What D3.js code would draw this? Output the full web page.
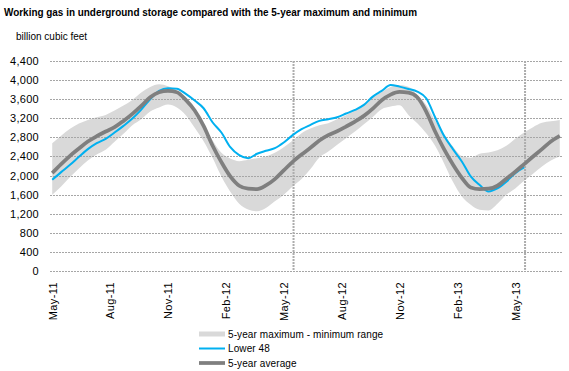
<!DOCTYPE html>
<html>
<head>
<meta charset="utf-8">
<script src="https://cdn.jsdelivr.net/npm/d3@7"></script>
<style>
  body { margin: 0; background: #fff; }
  text { font-family: "Liberation Sans", Arial, sans-serif; fill: #000; }
</style>
</head>
<body>
<div id="chart"></div>
<script>
// weeks since first week of May 2011, sampled every 2 weeks
var weeks = d3.range(0, 115, 2);

// 5-year maximum (upper edge of the band)
var rangeMax = [2678, 2832, 2978, 3090, 3166, 3222, 3271, 3362, 3466, 3585,
  3738, 3857, 3912, 3870, 3780, 3585, 3348, 3048, 2741, 2476,
  2358, 2302, 2330, 2365, 2400, 2476, 2595, 2734, 2887, 2985,
  3055, 3097, 3180, 3264, 3375, 3494, 3640, 3752, 3857, 3898,
  3863, 3689, 3480, 3152, 2873, 2609, 2407, 2372, 2456, 2483,
  2532, 2623, 2769, 2901, 3013, 3104, 3138, 3166];

// 5-year minimum (lower edge of the band)
var rangeMin = [1598, 1772, 1967, 2149, 2316, 2441, 2539, 2706, 2874, 3055,
  3180, 3341, 3424, 3487, 3424, 3264, 2999, 2720, 2372, 1981,
  1661, 1410, 1291, 1250, 1319, 1459, 1598, 1772, 1926, 2135,
  2379, 2504, 2644, 2783, 2922, 3076, 3229, 3389, 3445, 3473,
  3271, 3097, 2887, 2623, 2260, 1870, 1563, 1389, 1284, 1270,
  1410, 1598, 1731, 1891, 2037, 2190, 2316, 2400];

// Lower 48 (ends week 106)
var lower48 = [1912, 2072, 2225, 2393, 2553, 2678, 2769, 2901, 3041, 3194,
  3382, 3598, 3773, 3828, 3821, 3710, 3571, 3410, 3117, 2901,
  2595, 2428, 2365, 2456, 2518, 2574, 2692, 2846, 2971, 3062,
  3145, 3180, 3222, 3299, 3375, 3480, 3654, 3773, 3898, 3863,
  3815, 3759, 3619, 3222, 2832, 2553, 2295, 1981, 1800, 1668,
  1731, 1870, 2051, 2170];

// 5-year average
var avg5 = [2051, 2239, 2414, 2567, 2713, 2825, 2922, 3013, 3145, 3292,
  3459, 3640, 3745, 3773, 3745, 3585, 3362, 3041, 2630, 2281,
  1981, 1786, 1724, 1717, 1793, 1926, 2107, 2288, 2441, 2581,
  2734, 2846, 2929, 3027, 3131, 3250, 3403, 3578, 3696, 3752,
  3738, 3640, 3341, 2922, 2553, 2232, 1954, 1752, 1717, 1724,
  1786, 1933, 2079, 2239, 2400, 2553, 2713, 2830];

var tickWeeks = [0, 13, 26, 39, 52, 65, 78, 91, 104];
var tickLabels = ["May-11", "Aug-11", "Nov-11", "Feb-12", "May-12",
  "Aug-12", "Nov-12", "Feb-13", "May-13"];
var yTicks = [0, 400, 800, 1200, 1600, 2000, 2400, 2800, 3200, 3600, 4000, 4400];
var markerWeeks = [54.2, 106.2];

function draw_chart()
{
  var svg = d3.select("#chart").append("svg")
    .attr("width", 569)
    .attr("height", 371);

  var margin = {left: 50, right: 562, top: 61, bottom: 271};
  var nWeeks = 115;

  var x = d3.scaleLinear().domain([-0.5, nWeeks - 0.5]).range([margin.left, margin.right]);
  var y = d3.scaleLinear().domain([0, 4400]).range([margin.bottom, margin.top]);

  // title
  svg.append("text")
    .attr("x", 4).attr("y", 16)
    .attr("font-size", "11px").attr("font-weight", "bold")
    .attr("textLength", 413).attr("lengthAdjust", "spacingAndGlyphs")
    .text("Working gas in underground storage compared with the  5-year maximum and minimum");

  svg.append("text")
    .attr("x", 16).attr("y", 40)
    .attr("font-size", "10px")
    .text("billion cubic feet");

  // band
  var bandData = weeks.map(function(w, i) { return {w: w, lo: rangeMin[i], hi: rangeMax[i]}; });
  var area = d3.area()
    .x(d => x(d.w))
    .y0(d => y(d.lo))
    .y1(d => y(d.hi))
    .curve(d3.curveMonotoneX);

  svg.append("path")
    .datum(bandData)
    .attr("d", area)
    .attr("fill", "#d9d9d9");

  // gridlines
  svg.append("g").selectAll("line")
    .data(yTicks)
    .enter().append("line")
    .attr("x1", margin.left).attr("x2", margin.right)
    .attr("y1", d => Math.round(y(d)) + 0.5).attr("y2", d => Math.round(y(d)) + 0.5)
    .attr("stroke", "#a6a6a6")
    .attr("stroke-dasharray", "2,1");

  // y axis labels
  var yAxis = d3.axisLeft(y).tickValues(yTicks).tickFormat(d3.format(",")).tickSize(0).tickPadding(11);
  var gy = svg.append("g").attr("transform", `translate(${margin.left},0)`).call(yAxis);
  gy.select(".domain").remove();
  gy.selectAll("text").attr("font-size", "11px").attr("font-family", null).attr("letter-spacing", "0.3px");

  // x axis labels
  var xAxis = d3.axisBottom(x).tickValues(tickWeeks)
    .tickFormat((d, i) => tickLabels[i])
    .tickSize(0).tickPadding(0);
  var gx = svg.append("g").attr("transform", `translate(0,${margin.bottom})`).call(xAxis);
  gx.select(".domain").remove();
  gx.selectAll("text")
    .attr("font-size", "11px").attr("font-family", null)
    .attr("letter-spacing", "0.4px")
    .attr("transform", "rotate(-90)")
    .attr("x", -11).attr("y", 0).attr("dy", "0.35em")
    .style("text-anchor", "end");

  // dotted markers
  svg.append("g").selectAll("line")
    .data(markerWeeks)
    .enter().append("line")
    .attr("x1", d => x(d)).attr("x2", d => x(d))
    .attr("y1", margin.top).attr("y2", margin.bottom)
    .attr("stroke", "#adadad").attr("stroke-width", 2)
    .attr("stroke-dasharray", "2,1");

  var line = d3.line()
    .defined(d => d.v != null)
    .x(d => x(d.w))
    .y(d => y(d.v))
    .curve(d3.curveMonotoneX);

  svg.append("path")
    .datum(lower48.map((v, i) => ({w: weeks[i], v: v})))
    .attr("d", line)
    .attr("fill", "none")
    .attr("stroke", "#00b0f0")
    .attr("stroke-width", 2);

  svg.append("path")
    .datum(avg5.map((v, i) => ({w: weeks[i], v: v})))
    .attr("d", line)
    .attr("fill", "none")
    .attr("stroke", "#7f7f7f")
    .attr("stroke-width", 3.75);

  // legend
  var legendItems = [
    {label: "5-year maximum - minimum range", color: "#d9d9d9", w: 5},
    {label: "Lower 48", color: "#00b0f0", w: 2},
    {label: "5-year average", color: "#7f7f7f", w: 3.75}
  ];
  var lg = svg.append("g").selectAll("g")
    .data(legendItems)
    .enter().append("g")
    .attr("transform", (d, i) => `translate(0,${334 + i * 14.5})`);
  lg.append("line")
    .attr("x1", 199).attr("x2", 225)
    .attr("y1", 0).attr("y2", 0)
    .attr("stroke", d => d.color)
    .attr("stroke-width", d => d.w);
  lg.append("text")
    .attr("x", 228).attr("y", 0).attr("dy", "0.35em")
    .attr("font-size", "10px")
    .attr("letter-spacing", "0.1px")
    .text(d => d.label);
}

draw_chart()
</script>
</body>
</html>
